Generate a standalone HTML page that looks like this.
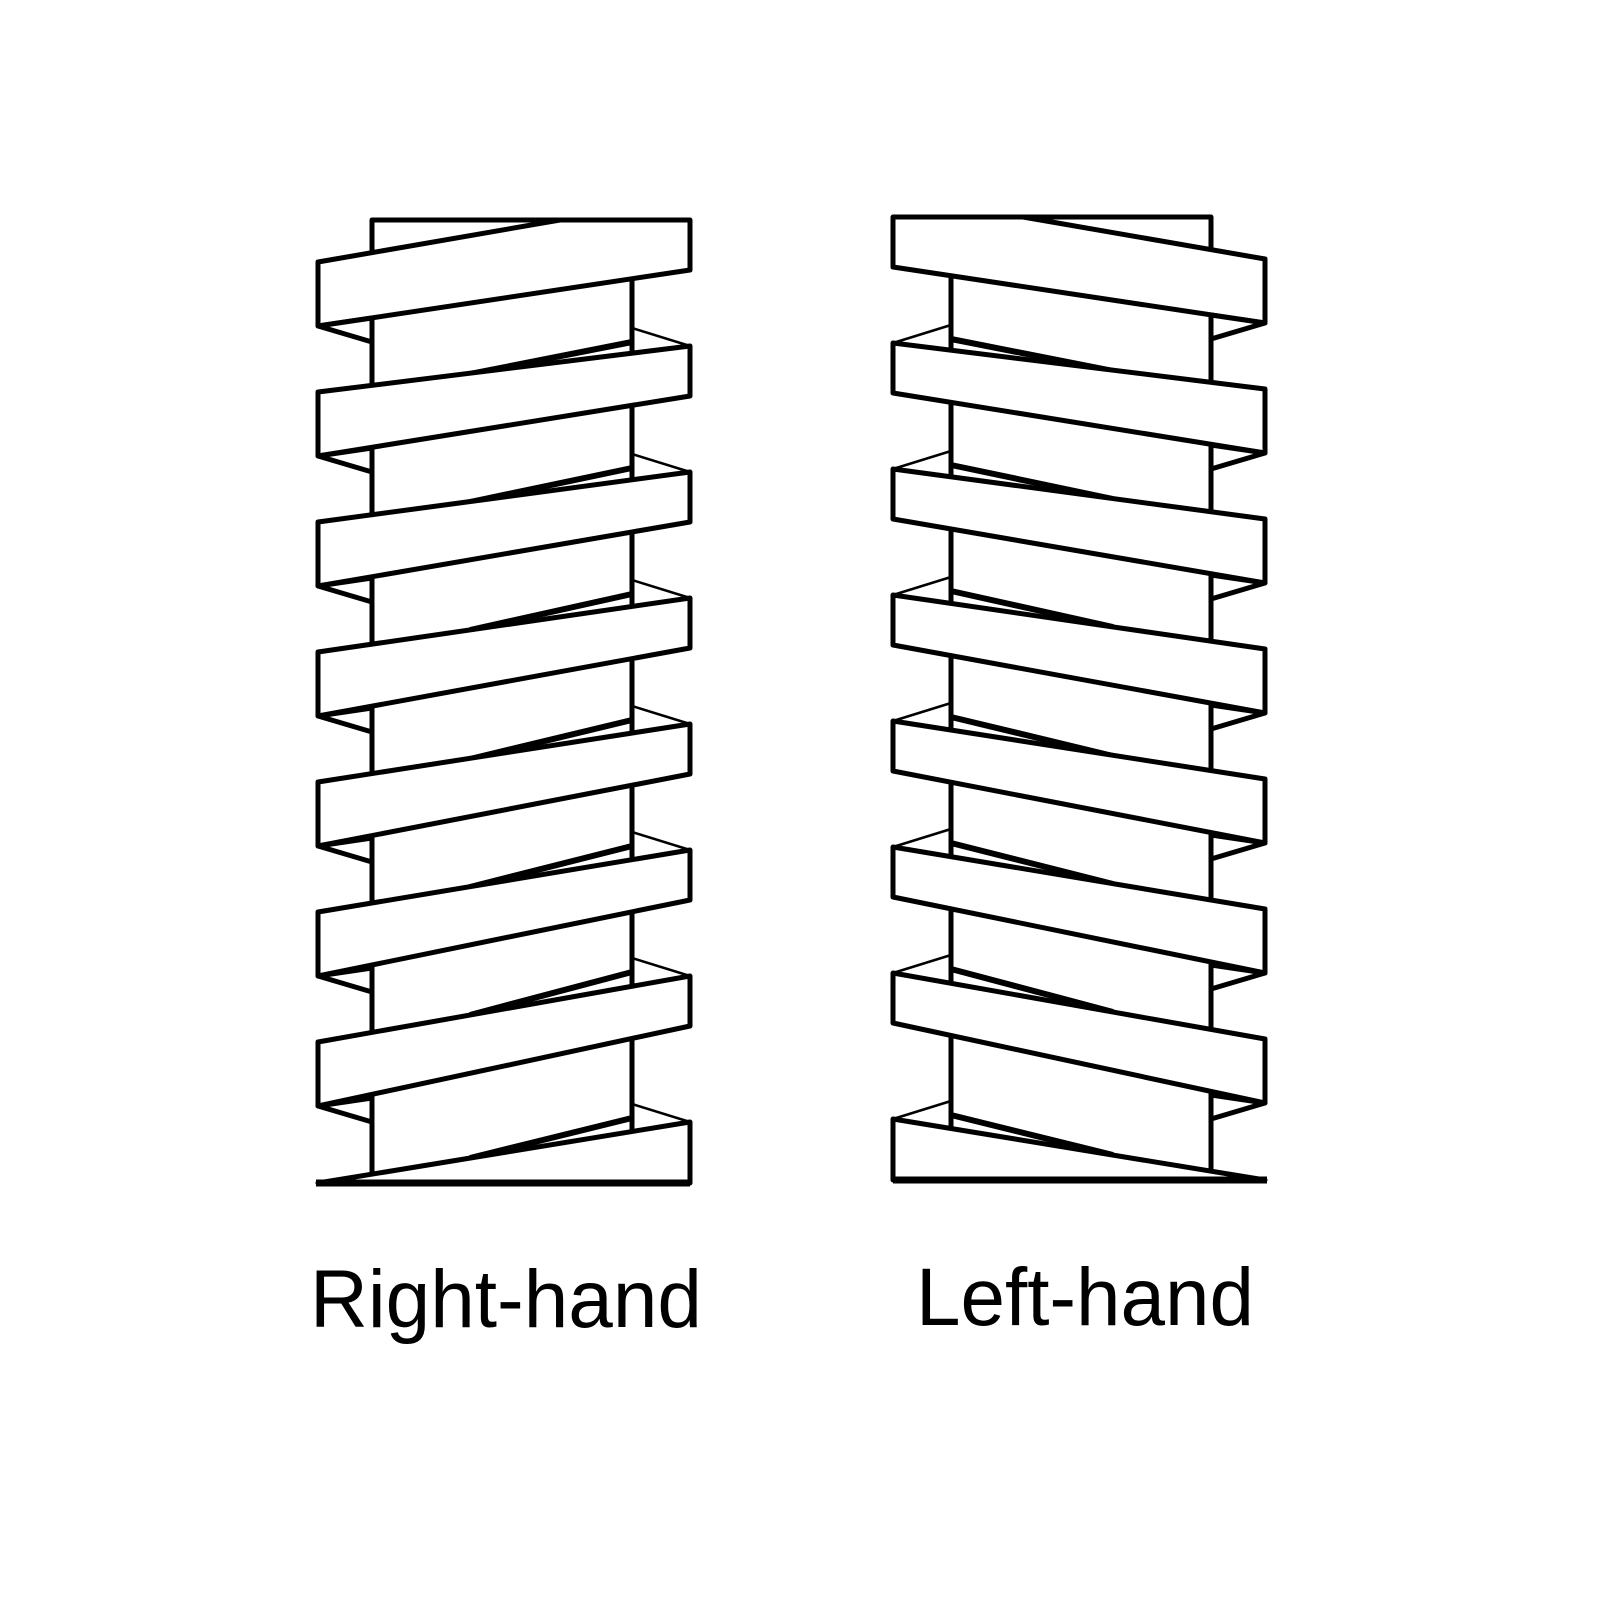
<!DOCTYPE html>
<html><head><meta charset="utf-8"><style>
html,body{margin:0;padding:0;background:#fff;}
svg{display:block;}
text{font-family:"Liberation Sans",sans-serif;font-size:82px;fill:#000;}
</style></head><body>
<svg width="1600" height="1600" viewBox="0 0 1600 1600" xmlns="http://www.w3.org/2000/svg">
<defs>
<g id="screw" stroke="#000" stroke-linejoin="round" fill="#fff">
  <rect x="372" y="220" width="260" height="960" stroke-width="5"/>
  <g stroke-width="2.5">
    <line x1="632" y1="328" x2="690" y2="346"/>
    <line x1="632" y1="454" x2="690" y2="472"/>
    <line x1="632" y1="580" x2="690" y2="598"/>
    <line x1="632" y1="706" x2="690" y2="724"/>
    <line x1="632" y1="832" x2="690" y2="850"/>
    <line x1="632" y1="958" x2="690" y2="976"/>
    <line x1="632" y1="1104" x2="690" y2="1122"/>
  </g>
  <g stroke-width="6">
    <line x1="632" y1="342" x2="470" y2="374"/>
    <line x1="632" y1="468" x2="470" y2="502"/>
    <line x1="632" y1="594" x2="470" y2="630"/>
    <line x1="632" y1="720" x2="470" y2="759"/>
    <line x1="632" y1="846" x2="470" y2="887"/>
    <line x1="632" y1="972" x2="470" y2="1015"/>
    <line x1="632" y1="1118" x2="470" y2="1158"/>
  </g>
  <polygon points="318,1183 690,1122 690,1183" stroke-width="5"/>
  <line x1="316" y1="1183" x2="690" y2="1183" stroke-width="7"/>
  <g stroke-width="5">
    <polygon points="318,262 560,220 690,220 690,270 318,326"/>
    <polygon points="318,392 690,346 690,396 318,456"/>
    <polygon points="318,522 690,472 690,522 318,586"/>
    <polygon points="318,652 690,598 690,648 318,716"/>
    <polygon points="318,782 690,724 690,774 318,846"/>
    <polygon points="318,912 690,850 690,900 318,976"/>
    <polygon points="318,1042 690,976 690,1026 318,1106"/>
  </g>
  <g stroke-width="5">
    <polygon points="318,326 372,342 372,318"/>
    <polygon points="318,456 372,472 372,448"/>
    <polygon points="318,586 372,602 372,578"/>
    <polygon points="318,716 372,732 372,708"/>
    <polygon points="318,846 372,862 372,838"/>
    <polygon points="318,976 372,992 372,968"/>
    <polygon points="318,1106 372,1122 372,1098"/>
  </g>
</g>
</defs>
<use href="#screw"/>
<use href="#screw" transform="matrix(-1,0,0,1,1583,-3)"/>
<text x="310" y="1327" textLength="392" lengthAdjust="spacingAndGlyphs">Right-hand</text>
<text x="916" y="1325" textLength="338" lengthAdjust="spacingAndGlyphs">Left-hand</text>
</svg>
</body></html>
